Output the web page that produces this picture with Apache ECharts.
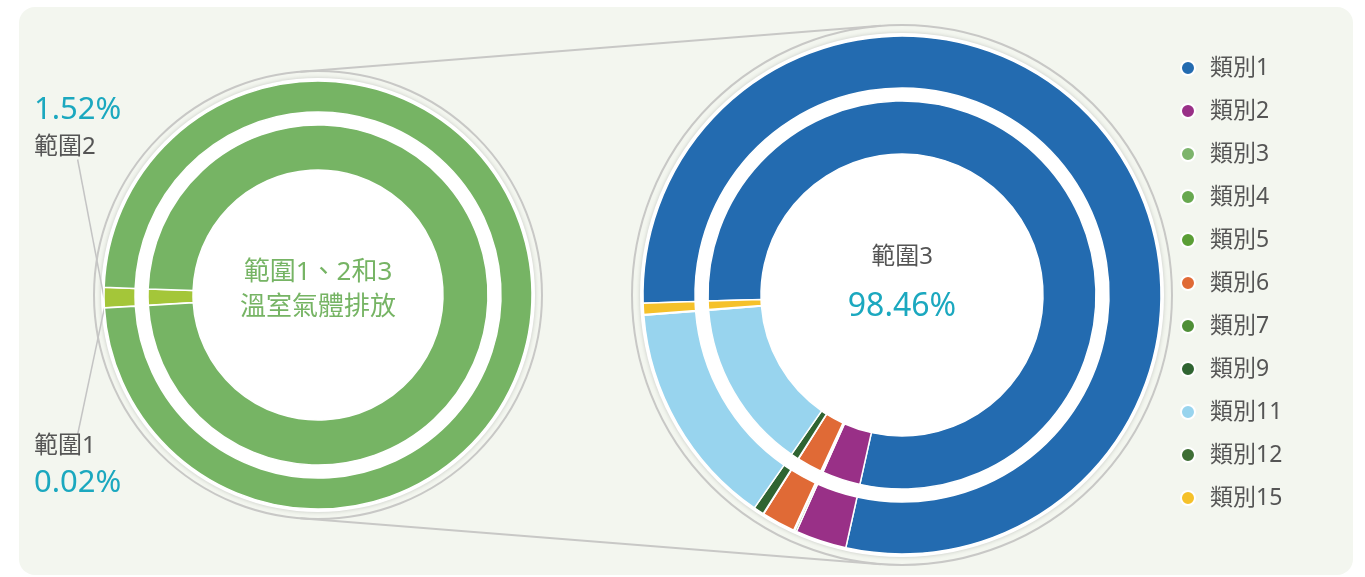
<!DOCTYPE html>
<html>
<head>
<meta charset="utf-8">
<script src="https://cdn.jsdelivr.net/npm/echarts@6/dist/echarts.min.js"></script>
<style>
  html, body { margin: 0; padding: 0; background: #fff; }
  #main { width: 1365px; height: 577px; }
</style>
</head>
<body>
<div id="main"></div>
<script>
// scope 1/2/3 share (%)
const scopeNames = ['範圍1', '範圍2', '範圍3'];
const scopeValues = [0.02, 1.52, 98.46];
const scopeColors = ['#4e8f3a', '#a4c639', '#76b464'];

// scope 3 categories (% of scope 3)
const categoryNames = ['類別1', '類別2', '類別3', '類別4', '類別5', '類別6', '類別7', '類別9', '類別11', '類別12', '類別15'];
const categoryValues = [79.0, 3.2, 0.12, 0.04, 0.03, 2.1, 0.03, 0.65, 14.1, 0.05, 0.7];
const categoryColors = ['#236bb0', '#993087', '#7db46c', '#67a84f', '#5a9e35', '#e06a36', '#4f8f37', '#2f6431', '#98d4ee', '#3e6e35', '#f5c12a'];

const FONT = "'Noto Sans', 'Noto Sans CJK TC', sans-serif";
const left = { cx: 318, cy: 295, ring: 224, disc: 217 };
const right = { cx: 902, cy: 295, ring: 270, disc: 262 };

const myChart = echarts.init(document.getElementById('main'));

// outer tangent lines between the two gray circles
const s = (right.ring - left.ring) / (right.cx - left.cx);
const c = Math.sqrt(1 - s * s);
const tangent = dir => ({
  type: 'line',
  z: -8,
  shape: {
    x1: left.cx - left.ring * s, y1: left.cy + dir * left.ring * c,
    x2: right.cx - right.ring * s, y2: right.cy + dir * right.ring * c,
  },
  style: { stroke: '#c8c8c6', lineWidth: 2 },
});

const grayCircle = d => ({
  type: 'circle', z: -8,
  shape: { cx: d.cx, cy: d.cy, r: d.ring },
  style: { fill: 'none', stroke: '#c8c8c6', lineWidth: 2 },
});
const whiteDisc = d => ({
  type: 'circle', z: -6,
  shape: { cx: d.cx, cy: d.cy, r: d.disc },
  style: { fill: '#fff', shadowBlur: 4, shadowColor: 'rgba(0,0,0,0.18)' },
});

const baseSeries = {
  type: 'pie',
  silent: true,
  animation: false,
  avoidLabelOverlap: false,
  clockwise: true,
  itemStyle: { borderColor: '#fff', borderWidth: 1.5 },
  label: { show: false },
  labelLine: { show: false },
  emphasis: { disabled: true },
};

const scopeData = withLabel => scopeNames.map((n, i) => ({
  name: n,
  value: scopeValues[i],
  itemStyle: { color: scopeColors[i] },
  label: { show: withLabel && i < 2 },
  labelLine: { show: withLabel && i < 2 },
}));

const categoryData = categoryNames.map((n, i) => ({
  name: n,
  value: categoryValues[i],
  itemStyle: { color: categoryColors[i] },
}));

const centerText = (x, y, text, color, size, extra) => ({
  type: 'text', z: 10, x: x, y: y,
  style: Object.assign({
    text: text, fill: color, fontSize: size, fontFamily: FONT,
    align: 'center', verticalAlign: 'middle',
    textAlign: 'center', textVerticalAlign: 'middle',
  }, extra || {}),
});

const option = {
  backgroundColor: '#fff',
  textStyle: { fontFamily: FONT },
  graphic: {
    elements: [
      {
        type: 'rect', z: -10,
        shape: { x: 19, y: 7, width: 1334, height: 568, r: 16 },
        style: { fill: '#f3f6ef' },
      },
      grayCircle(left),
      grayCircle(right),
      tangent(-1),
      tangent(1),
      whiteDisc(left),
      whiteDisc(right),
      centerText(left.cx, 290, '範圍1、2和3\n溫室氣體排放', '#76b464', 26, { lineHeight: 35 }),
      centerText(right.cx, 257, scopeNames[2], '#555', 24),
      centerText(right.cx, 307, scopeValues[2].toFixed(2) + '%', '#1ba8bf', 32),
    ],
  },
  legend: {
    orient: 'vertical',
    left: 1175,
    top: 50,
    icon: 'circle',
    itemWidth: 14,
    itemHeight: 14,
    itemGap: 17,
    selectedMode: false,
    data: categoryNames,
    textStyle: { fontSize: 23, color: '#555', lineHeight: 26, padding: [0, 0, 0, 10], fontFamily: FONT },
  },
  series: [
    {
      ...baseSeries,
      name: 'scope-outer',
      center: [left.cx, left.cy],
      radius: [183, 214],
      startAngle: 183.5,
      data: scopeData(true),
      label: {
        show: true,
        formatter: p => p.dataIndex === 1
          ? '{v|' + p.value.toFixed(2) + '%}\n{n|' + p.name + '}'
          : '{n|' + p.name + '}\n{v|' + p.value.toFixed(2) + '%}',
        rich: {
          v: { fontSize: 31, color: '#1ba8bf', lineHeight: 37, fontFamily: FONT },
          n: { fontSize: 24, color: '#555', lineHeight: 37, fontFamily: FONT },
        },
      },
      labelLine: { show: true, length: 10, length2: 0, lineStyle: { color: '#c4c4c4', width: 1.5 } },
      labelLayout: p => {
        if (p.dataIndex === 1) return { x: 34, y: 92, align: 'left', verticalAlign: 'top' };
        if (p.dataIndex === 0) return { x: 34, y: 502, align: 'left', verticalAlign: 'bottom' };
      },
    },
    {
      ...baseSeries,
      name: 'scope-inner',
      center: [left.cx, left.cy],
      radius: [125, 170],
      startAngle: 183.5,
      data: scopeData(false),
    },
    {
      ...baseSeries,
      name: 'cat-outer',
      center: [right.cx, right.cy],
      radius: [207, 259],
      startAngle: 181.8,
      data: categoryData,
    },
    {
      ...baseSeries,
      name: 'cat-inner',
      center: [right.cx, right.cy],
      radius: [141, 194],
      startAngle: 181.8,
      data: categoryData,
    },
  ],
};

myChart.setOption(option);
window.addEventListener('resize', function () {
  myChart.resize();
});
</script>
</body>
</html>
